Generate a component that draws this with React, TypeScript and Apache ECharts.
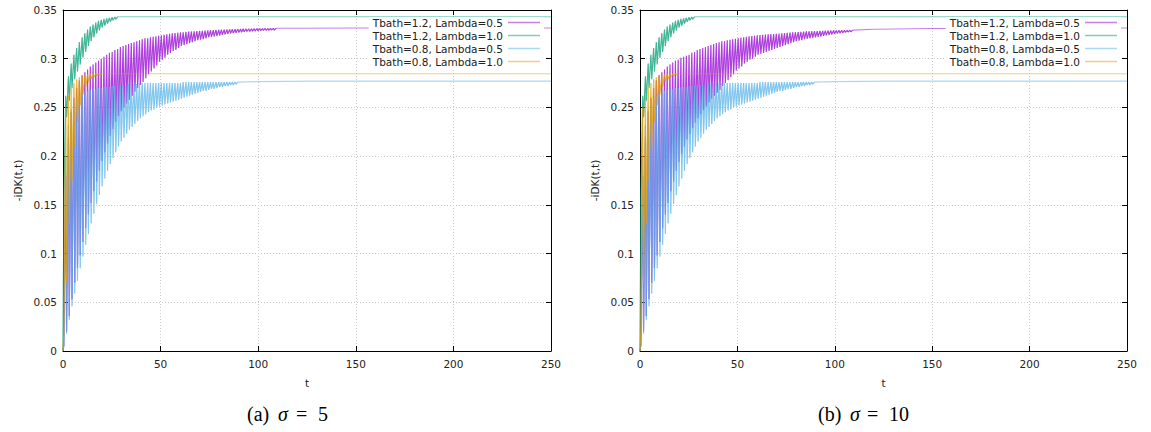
import React, { useEffect, useRef } from "react";
import * as echarts from "echarts";

// ---------- data ----------
const seriesNames = [
  "Tbath=1.2, Lambda=0.5",
  "Tbath=1.2, Lambda=1.0",
  "Tbath=0.8, Lambda=0.5",
  "Tbath=0.8, Lambda=1.0",
];
const seriesColors = ["#9400d3", "#009e73", "#56b4e9", "#e69f00"];

const xTicks = [0, 50, 100, 150, 200, 250];
const yTicks = [0, 0.05, 0.1, 0.15, 0.2, 0.25, 0.3, 0.35];

// oscillation period in t
const PERIOD = 1.4;

// Tbath=1.2, Lambda=0.5  (panel a)
const purpleTroughsA = [
  0.006, 0.020, 0.036, 0.053, 0.070, 0.085, 0.098, 0.112, 0.126, 0.140,
  0.152, 0.164, 0.174, 0.185, 0.195, 0.204, 0.213, 0.221, 0.228, 0.235,
  0.241, 0.246, 0.250, 0.254, 0.258, 0.262, 0.266, 0.270, 0.273, 0.276,
  0.280, 0.284, 0.287, 0.290, 0.293, 0.297, 0.299, 0.301, 0.304, 0.306,
  0.308, 0.309, 0.311, 0.313, 0.314, 0.315, 0.316, 0.317, 0.318, 0.319,
  0.3195, 0.320, 0.321, 0.322, 0.3225, 0.323, 0.3235, 0.324, 0.3245, 0.325,
  0.3255, 0.326, 0.3263, 0.3266, 0.327, 0.3273, 0.3276, 0.3279, 0.328, 0.3282,
  0.3284, 0.3286, 0.3288, 0.329, 0.3291, 0.3292, 0.3294, 0.3295,
];
const purplePeaksA = [
  0.180, 0.220, 0.245, 0.260, 0.270, 0.278, 0.283, 0.286, 0.289, 0.292,
  0.294, 0.296, 0.298, 0.300, 0.302, 0.304, 0.306, 0.307, 0.309, 0.310,
  0.312, 0.313, 0.314, 0.315, 0.316, 0.317, 0.318, 0.319, 0.320, 0.321,
  0.321, 0.322, 0.3225, 0.323, 0.3235, 0.324, 0.3245, 0.325, 0.3255, 0.326,
  0.3263, 0.3266, 0.327, 0.3272, 0.3275, 0.3278, 0.328, 0.3282, 0.3284, 0.3285,
  0.3287, 0.3289, 0.329, 0.3292, 0.3293, 0.3295, 0.3296, 0.3297, 0.3298, 0.330,
  0.3301, 0.3302, 0.3303, 0.3304, 0.3305, 0.3306, 0.3307, 0.3307, 0.3308, 0.3309,
  0.331, 0.331, 0.331, 0.3311, 0.3311, 0.3311, 0.3312, 0.3312,
];
const purpleTailT = [120, 150, 250];
const purpleTailA = [0.3313, 0.3315, 0.3315];

// Tbath=1.2, Lambda=0.5  (panel b)
const purpleTroughsB = [
  0.006, 0.020, 0.036, 0.053, 0.070, 0.085, 0.098, 0.112, 0.126, 0.140,
  0.152, 0.164, 0.174, 0.185, 0.194, 0.202, 0.210, 0.217, 0.223, 0.229,
  0.234, 0.239, 0.243, 0.247, 0.251, 0.255, 0.259, 0.262, 0.265, 0.268,
  0.272, 0.275, 0.278, 0.281, 0.284, 0.288, 0.290, 0.292, 0.295, 0.297,
  0.299, 0.300, 0.302, 0.304, 0.305, 0.306, 0.307, 0.308, 0.309, 0.310,
  0.311, 0.312, 0.313, 0.314, 0.315, 0.316, 0.317, 0.318, 0.3185, 0.319,
  0.320, 0.3205, 0.321, 0.3215, 0.322, 0.3225, 0.323, 0.3235, 0.324, 0.3245,
  0.325, 0.3255, 0.326, 0.3263, 0.3266, 0.327, 0.3273, 0.3276,
];
const purplePeaksB = [
  0.180, 0.220, 0.245, 0.260, 0.270, 0.278, 0.283, 0.286, 0.289, 0.292,
  0.294, 0.296, 0.298, 0.299, 0.301, 0.302, 0.303, 0.304, 0.306, 0.307,
  0.309, 0.310, 0.311, 0.312, 0.313, 0.314, 0.315, 0.316, 0.317, 0.318,
  0.318, 0.319, 0.3195, 0.320, 0.3205, 0.321, 0.3215, 0.322, 0.3225, 0.323,
  0.3233, 0.3236, 0.324, 0.3242, 0.3245, 0.3248, 0.325, 0.3252, 0.3254, 0.3255,
  0.3258, 0.326, 0.3263, 0.3266, 0.3268, 0.327, 0.3272, 0.3274, 0.3276, 0.3278,
  0.328, 0.3281, 0.3282, 0.3283, 0.3284, 0.3285, 0.3286, 0.3287, 0.3288, 0.3289,
  0.329, 0.329, 0.3291, 0.3291, 0.3292, 0.3292, 0.3293, 0.3293,
];
const purpleTailB = [0.3302, 0.331, 0.3315];

// Tbath=1.2, Lambda=1.0
const greenTroughs = [
  0.150, 0.240, 0.257, 0.270, 0.279, 0.287, 0.294, 0.301, 0.307, 0.313,
  0.318, 0.322, 0.326, 0.329, 0.332, 0.334, 0.336, 0.338, 0.3395, 0.3405,
];
const greenPeaks = [
  0.262, 0.282, 0.295, 0.304, 0.311, 0.317, 0.322, 0.326, 0.330, 0.333,
  0.335, 0.337, 0.339, 0.340, 0.341, 0.3415, 0.342, 0.3425, 0.3428, 0.343,
];
const greenTailT = [35, 250];
const greenTail = [0.343, 0.343];

// Tbath=0.8, Lambda=0.5
const blueTroughs = [
  0.005, 0.018, 0.032, 0.046, 0.059, 0.072, 0.085, 0.097, 0.109, 0.120,
  0.131, 0.141, 0.151, 0.160, 0.169, 0.177, 0.185, 0.192, 0.198, 0.204,
  0.210, 0.215, 0.219, 0.223, 0.227, 0.230, 0.233, 0.236, 0.239, 0.241,
  0.243, 0.245, 0.247, 0.248, 0.250, 0.251, 0.252, 0.253, 0.254, 0.255,
  0.256, 0.257, 0.258, 0.259, 0.260, 0.261, 0.262, 0.263, 0.264, 0.265,
  0.266, 0.267, 0.267, 0.268, 0.269, 0.269, 0.270, 0.271, 0.271, 0.272,
  0.272, 0.273, 0.273, 0.274,
];
const bluePeaks = [
  0.200, 0.232, 0.248, 0.255, 0.259, 0.262, 0.264, 0.266, 0.267, 0.268,
  0.269, 0.269, 0.270, 0.270, 0.271, 0.271, 0.271, 0.272, 0.272, 0.272,
  0.273, 0.273, 0.273, 0.274, 0.274, 0.274, 0.274, 0.275, 0.275, 0.275,
  0.275, 0.275, 0.275, 0.275, 0.275, 0.275, 0.275, 0.275, 0.275, 0.275,
  0.275, 0.275, 0.275, 0.276, 0.276, 0.276, 0.276, 0.276, 0.276, 0.276,
  0.276, 0.276, 0.276, 0.276, 0.276, 0.276, 0.276, 0.276, 0.276, 0.276,
  0.276, 0.276, 0.276, 0.276,
];
const blueTailT = [100, 130, 250];
const blueTail = [0.2765, 0.277, 0.277];

// Tbath=0.8, Lambda=1.0
const orangeTroughs = [
  0.020, 0.070, 0.130, 0.175, 0.210, 0.235, 0.252, 0.263, 0.271, 0.276,
  0.279, 0.281, 0.2825, 0.2835,
];
const orangePeaks = [
  0.250, 0.262, 0.270, 0.275, 0.279, 0.281, 0.2825, 0.2835, 0.284, 0.2843,
  0.2845, 0.2845, 0.2845, 0.2845,
];
const orangeTailT = [25, 250];
const orangeTail = [0.2845, 0.2845];

// ---------- helpers ----------
function buildCurve(
  troughs: number[],
  peaks: number[],
  tailT: number[] | null,
  tailV: number[] | null
): number[][] {
  const pts: number[][] = [[0, 0]];
  for (let k = 0; k < troughs.length; k++) {
    pts.push([k * PERIOD + 0.3 * PERIOD, troughs[k]]);
    pts.push([(k + 1) * PERIOD, peaks[k]]);
  }
  if (tailT && tailV) tailT.forEach((t, i) => pts.push([t, tailV[i]]));
  return pts;
}

const FONT = "DejaVu Sans";
const FS = 10.5;

export default function App() {
  const ref = useRef<HTMLDivElement>(null);

  useEffect(() => {
    document.body.style.margin = "0";
    if (!ref.current) return;
    const chart = echarts.init(ref.current, undefined, { renderer: "svg" });

    const panels = [
      { purpleT: purpleTroughsA, purpleP: purplePeaksA, purpleTail: purpleTailA },
      { purpleT: purpleTroughsB, purpleP: purplePeaksB, purpleTail: purpleTailB },
    ];

    const grids = [
      { left: 63, top: 10, width: 488, height: 341 },
      { left: 640, top: 10, width: 487, height: 341 },
    ];

    const xAxes: any[] = [];
    const yAxes: any[] = [];
    const series: any[] = [];

    grids.forEach((_, g) => {
      const axisLine = { show: true, onZero: false, lineStyle: { color: "#000", width: 1 } };
      const tick = { show: true, inside: true, length: 5, lineStyle: { color: "#000" } };
      xAxes.push({
        type: "value", gridIndex: g, position: "bottom",
        min: xTicks[0], max: xTicks[xTicks.length - 1], interval: xTicks[1] - xTicks[0],
        axisLine, axisTick: tick,
        axisLabel: { margin: 7, fontFamily: FONT, fontSize: FS, color: "#222" },
        splitLine: { show: true, lineStyle: { color: "#cccccc", type: [1, 2], width: 1 } },
        name: "t", nameLocation: "middle", nameGap: 26,
        nameTextStyle: { fontFamily: FONT, fontSize: FS, color: "#222" },
      });
      xAxes.push({
        type: "value", gridIndex: g, position: "top",
        min: xTicks[0], max: xTicks[xTicks.length - 1], interval: xTicks[1] - xTicks[0],
        axisLine, axisTick: tick, axisLabel: { show: false }, splitLine: { show: false },
      });
      yAxes.push({
        type: "value", gridIndex: g, position: "left",
        min: yTicks[0], max: yTicks[yTicks.length - 1], interval: yTicks[1] - yTicks[0],
        axisLine, axisTick: tick,
        axisLabel: {
          margin: 6, fontFamily: FONT, fontSize: FS, color: "#222",
          formatter: (v: number) => String(+v.toFixed(2)),
        },
        splitLine: { show: true, lineStyle: { color: "#cccccc", type: [1, 2], width: 1 } },
        name: "-iDK(t,t)", nameLocation: "middle", nameGap: 40, nameRotate: 90,
        nameTextStyle: { fontFamily: FONT, fontSize: FS, color: "#222" },
      });
      yAxes.push({
        type: "value", gridIndex: g, position: "right",
        min: yTicks[0], max: yTicks[yTicks.length - 1], interval: yTicks[1] - yTicks[0],
        axisLine, axisTick: tick, axisLabel: { show: false }, splitLine: { show: false },
      });

      const p = panels[g];
      const curves = [
        { t: p.purpleT, pk: p.purpleP, tt: purpleTailT, tv: p.purpleTail },
        { t: greenTroughs, pk: greenPeaks, tt: greenTailT, tv: greenTail },
        { t: blueTroughs, pk: bluePeaks, tt: blueTailT, tv: blueTail },
        { t: orangeTroughs, pk: orangePeaks, tt: orangeTailT, tv: orangeTail },
      ];
      curves.forEach((c, i) => {
        const base = {
          type: "line", xAxisIndex: g * 2, yAxisIndex: g * 2,
          symbol: "none", showSymbol: false, silent: true, clip: true,
          emphasis: { disabled: true },
          itemStyle: { color: seriesColors[i] },
        };
        series.push({
          ...base, name: seriesNames[i],
          data: buildCurve(c.t, c.pk, c.tt, c.tv),
          lineStyle: { width: 1.1, color: seriesColors[i], opacity: 0.5 },
        });
        series.push({
          ...base, name: "osc" + g + "_" + i,
          data: buildCurve(c.t, c.pk, null, null),
          lineStyle: { width: 1.1, color: seriesColors[i], opacity: 0.5 },
        });
      });
    });

    const legendFor = (right: number) => ({
      data: seriesNames, orient: "vertical", right, top: 17, align: "right",
      icon: "rect", itemWidth: 32, itemHeight: 1.5, itemGap: 2, padding: [0, 4, 2, 4],
      itemStyle: { opacity: 0.5 },
      backgroundColor: "#fff", selectedMode: false,
      textStyle: { fontFamily: FONT, fontSize: FS, color: "#222", lineHeight: 11 },
    });

    const cap = (text: string, x: number, italic = false) => ({
      type: "text", x, y: 414,
      style: {
        text, fill: "#000",
        font: (italic ? "italic " : "") + '20px "Liberation Serif"',
        verticalAlign: "middle", align: "left",
      },
    });

    chart.setOption({
      animation: false,
      backgroundColor: "#fff",
      grid: grids,
      xAxis: xAxes,
      yAxis: yAxes,
      legend: [legendFor(607), legendFor(30)],
      series,
      graphic: [
        cap("(a)", 247), cap("σ", 278, true), cap("=", 296), cap("5", 318),
        cap("(b)", 818), cap("σ", 850, true), cap("=", 867), cap("10", 889),
      ],
    });

    return () => chart.dispose();
  }, []);

  return (
    <div
      ref={ref}
      style={{ position: "fixed", left: 0, top: 0, width: 1151, height: 432, background: "#fff" }}
    />
  );
}
